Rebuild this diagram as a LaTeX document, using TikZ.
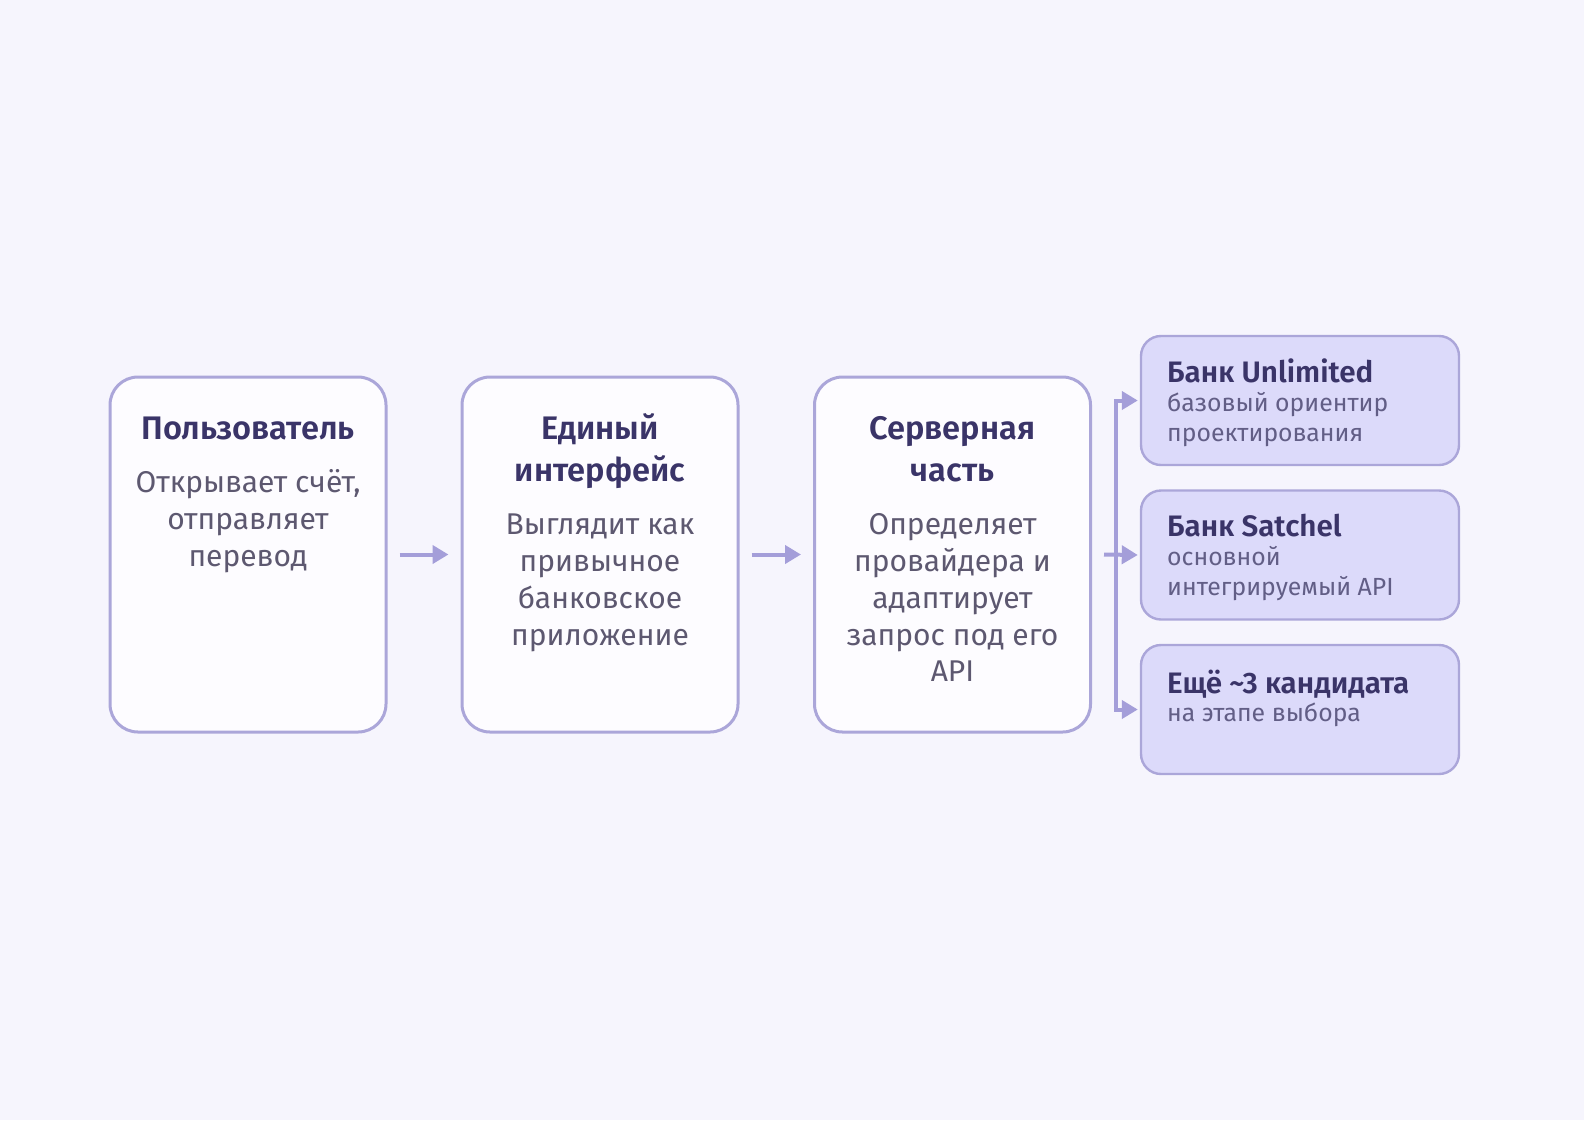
\documentclass[tikz,border=0pt]{standalone}
\usepackage{fontspec}
\setmainfont{Fira Sans}[BoldFont={Fira Sans SemiBold}]
\usepackage{xcolor}
\usetikzlibrary{arrows.meta}

\definecolor{bgcol}{HTML}{F6F5FD}
\definecolor{boxfill}{HTML}{FDFCFF}
\definecolor{boxline}{HTML}{ABA6D9}
\definecolor{bankfill}{HTML}{DCDAFA}
\definecolor{flowcol}{HTML}{A49ED9}
\definecolor{ttlcol}{HTML}{3A3468}
\definecolor{bodycol}{HTML}{5D5870}
\definecolor{subcol}{HTML}{625E86}

\newcommand{\ttlstrut}{\rule{0pt}{15pt}}
\newcommand{\bodystrut}{\rule{0pt}{13pt}}
\newcommand{\bankstrut}{\rule{0pt}{12pt}}
\newcommand{\substrut}{\rule{0pt}{10pt}}

\tikzset{
  stagebox/.style={draw=boxline, fill=boxfill, line width=1.5pt, rounded corners=14pt,
    minimum width=138pt, minimum height=177.5pt, inner sep=0pt},
  bankbox/.style={draw=boxline, fill=bankfill, line width=1.2pt, rounded corners=10pt,
    minimum width=159pt, minimum height=64.5pt, inner sep=0pt},
  ttl/.style={text=ttlcol, font=\bfseries\fontsize{16.3}{21}\selectfont, align=center, inner sep=0pt, anchor=north},
  body/.style={text=bodycol, font=\fontsize{15}{18.35}\selectfont, align=center, inner sep=0pt, anchor=north},
  bankttl/.style={text=ttlcol, font=\bfseries\fontsize{14.8}{17}\selectfont, align=left, inner sep=0pt, anchor=north west},
  banksub/.style={text=subcol, font=\fontsize{12.4}{15}\selectfont, align=left, inner sep=0pt, anchor=north west},
  flow/.style={draw=flowcol, line width=2pt, -{Triangle[length=8pt,width=9pt]}}
}

\begin{document}
\begin{tikzpicture}[x=0.5pt,y=-0.5pt]
  \fill[bgcol] (0,0) rectangle (1584,1120);
  \useasboundingbox (0,0) rectangle (1584,1120);

  % Stages
  \node[stagebox] (user) at (248,554.5) {};
  \node[stagebox] (iface) at (600,554.5) {};
  \node[stagebox] (srv) at (952.5,554.5) {};

  \node[ttl] (userT) at ([yshift=-17pt]user.north) {\ttlstrut Пользователь};
  \node[body] (userB) at ([yshift=-45.5pt]user.north) {\bodystrut Открывает счёт,\\отправляет\\перевод};

  \node[ttl] (ifaceT) at ([yshift=-17pt]iface.north) {\ttlstrut Единый\\интерфейс};
  \node[body] (ifaceB) at ([yshift=-66.5pt]iface.north) {\bodystrut Выглядит как\\привычное\\банковское\\приложение};

  \node[ttl] (srvT) at ([yshift=-17pt]srv.north) {\ttlstrut Серверная\\часть};
  \node[body] (srvB) at ([yshift=-66.5pt]srv.north) {\bodystrut Определяет\\провайдера и\\адаптирует\\запрос под его\\API};

  % Banks
  \node[bankbox] (bankA) at (1300,400.5) {};
  \node[bankbox] (bankB) at (1300,555) {};
  \node[bankbox] (bankC) at (1300,709.5) {};

  \node[bankttl] (bankAT) at ([xshift=13.5pt,yshift=-11.5pt]bankA.north west) {\bankstrut Банк Unlimited};
  \node[banksub] (bankAS) at ([xshift=13.5pt,yshift=-28pt]bankA.north west) {\substrut базовый ориентир\\проектирования};
  \node[bankttl] (bankBT) at ([xshift=13.5pt,yshift=-11.5pt]bankB.north west) {\bankstrut Банк Satchel};
  \node[banksub] (bankBS) at ([xshift=13.5pt,yshift=-28pt]bankB.north west) {\substrut основной\\интегрируемый API};
  \node[bankttl] (bankCT) at ([xshift=13.5pt,yshift=-12.5pt]bankC.north west) {\bankstrut Ещё \textasciitilde3 кандидата};
  \node[banksub] (bankCS) at ([xshift=13.5pt,yshift=-28.5pt]bankC.north west) {\substrut на этапе выбора};

  % Connectors
  \coordinate (split) at (1116,555);
  \draw[flow] ([xshift=6pt]user.east) -- ([xshift=-6pt]iface.west);
  \draw[flow] ([xshift=6pt]iface.east) -- ([xshift=-6pt]srv.west);
  \draw[flow] ([xshift=6pt]srv.east) -- ([xshift=-1pt]bankB.west);
  \draw[flow, {Triangle[length=8pt,width=9pt]}-{Triangle[length=8pt,width=9pt]}]
    ([xshift=-1pt]bankA.west) -- (bankA.west -| split) -- (bankC.west -| split) -- ([xshift=-1pt]bankC.west);
\end{tikzpicture}
\end{document}
